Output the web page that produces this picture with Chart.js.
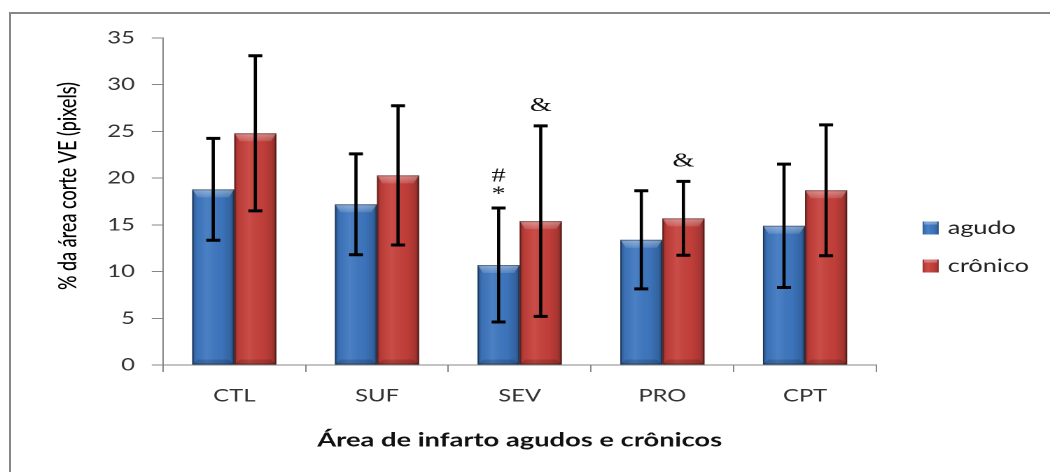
<!DOCTYPE html>
<html>
<head>
<meta charset="utf-8">
<script src="https://cdn.jsdelivr.net/npm/chart.js@4.4.1/dist/chart.umd.min.js"></script>
<style>
  html, body { margin: 0; padding: 0; background: #fff; width: 1050px; height: 472px; overflow: hidden; }
  #frame { position: absolute; left: 9px; top: 12px; width: 1100px; height: 520px; border: 2px solid #878787; }
  /* the drawing is laid out on a 750px wide canvas and widened to 1050px */
  #wrap { position: absolute; left: 0; top: 0; width: 750px; height: 472px; transform: scaleX(1.4); transform-origin: 0 0; }
  canvas { display: block; }
</style>
</head>
<body>
<div id="frame"></div>
<div id="wrap"><canvas id="chart" width="750" height="472"></canvas></div>
<script>
// Infarct area (% of LV section, pixels), mean ± error
const categories = ['CTL', 'SUF', 'SEV', 'PRO', 'CPT'];
const agudo      = [18.8, 17.2, 10.7, 13.4, 14.9];
const agudoErr   = [5.45, 5.4, 6.1, 5.25, 6.6];
const cronico    = [24.8, 20.3, 15.4, 15.7, 18.7];
const cronicoErr = [8.3, 7.45, 10.2, 3.95, 7.0];
// significance marks, listed top to bottom
const agudoMarks   = [[], [], ['#', '*'], [], []];
const cronicoMarks = [[], [], ['&'], ['&'], []];
const yTicks = { min: 0, max: 35, step: 5 };

const FONT = 'Lato';

function shadeGradient(ctx, l, r, a) {
  const g = ctx.createLinearGradient(l, 0, r, 0);
  g.addColorStop(0, 'rgba(0,0,0,' + (0.30 * a) + ')');
  g.addColorStop(0.10, 'rgba(0,0,0,' + (0.06 * a) + ')');
  g.addColorStop(0.35, 'rgba(255,255,255,' + (0.07 * a) + ')');
  g.addColorStop(0.70, 'rgba(0,0,0,0.03)');
  g.addColorStop(0.90, 'rgba(0,0,0,' + (0.16 * a) + ')');
  g.addColorStop(1, 'rgba(0,0,0,' + (0.40 * a) + ')');
  return g;
}

// bevelled, shaded look on top of the flat bars
const gloss = {
  id: 'gloss',
  afterDatasetsDraw(chart) {
    const ctx = chart.ctx;
    chart.data.datasets.forEach((ds, i) => {
      chart.getDatasetMeta(i).data.forEach(bar => {
        const { x, y, base, width } = bar.getProps(['x', 'y', 'base', 'width'], true);
        const l = x - width / 2, r = x + width / 2, h = base - y;
        ctx.save();
        ctx.fillStyle = shadeGradient(ctx, l, r, 1);
        ctx.fillRect(l, y, width, h);
        const bh = Math.min(8, h / 2), bi = 4;
        const tg = ctx.createLinearGradient(0, y, 0, y + bh);
        tg.addColorStop(0, 'rgba(255,255,255,0.40)');
        tg.addColorStop(1, 'rgba(255,255,255,0.12)');
        ctx.beginPath();
        ctx.moveTo(l, y); ctx.lineTo(r, y); ctx.lineTo(r - bi, y + bh); ctx.lineTo(l + bi, y + bh); ctx.closePath();
        ctx.fillStyle = tg;
        ctx.fill();
        ctx.beginPath();
        ctx.moveTo(l, base); ctx.lineTo(r, base); ctx.lineTo(r - bi, base - 5); ctx.lineTo(l + bi, base - 5); ctx.closePath();
        ctx.fillStyle = 'rgba(0,0,0,0.15)';
        ctx.fill();
        ctx.strokeStyle = 'rgba(0,0,0,0.35)';
        ctx.lineWidth = 1;
        ctx.strokeRect(l + 0.5, y + 0.5, width - 1, h - 1);
        ctx.restore();
      });
    });
  }
};

// error bars with caps
const errorBars = {
  id: 'errorBars',
  afterDatasetsDraw(chart) {
    const ctx = chart.ctx, ys = chart.scales.y;
    chart.data.datasets.forEach((ds, i) => {
      chart.getDatasetMeta(i).data.forEach((bar, j) => {
        const v = ds.data[j], e = ds.errors[j];
        const yt = ys.getPixelForValue(v + e), yb = ys.getPixelForValue(v - e);
        ctx.save();
        ctx.strokeStyle = '#000';
        ctx.lineWidth = 2.3;
        ctx.beginPath(); ctx.moveTo(bar.x, yt); ctx.lineTo(bar.x, yb); ctx.stroke();
        ctx.lineWidth = 3;
        ctx.beginPath();
        ctx.moveTo(bar.x - 5, yt); ctx.lineTo(bar.x + 5, yt);
        ctx.moveTo(bar.x - 5, yb); ctx.lineTo(bar.x + 5, yb);
        ctx.stroke();
        ctx.restore();
      });
    });
  }
};

// significance symbols above the error bars
const marks = {
  id: 'marks',
  afterDatasetsDraw(chart) {
    const ctx = chart.ctx, ys = chart.scales.y;
    chart.data.datasets.forEach((ds, i) => {
      chart.getDatasetMeta(i).data.forEach((bar, j) => {
        const list = ds.marks[j];
        if (!list.length) return;
        const yt = ys.getPixelForValue(ds.data[j] + ds.errors[j]);
        ctx.save();
        ctx.font = '20px "Liberation Serif"';
        ctx.fillStyle = '#111';
        ctx.textAlign = 'center';
        ctx.textBaseline = 'middle';
        list.slice().reverse().forEach((m, k) => {
          ctx.fillText(m, bar.x, yt - ds.markGap - k * 18);
        });
        ctx.restore();
      });
    });
  }
};

// legend at the right, and the vertical axis title
const sideText = {
  id: 'sideText',
  afterDraw(chart) {
    const ctx = chart.ctx;
    const rows = [228, 266];
    chart.data.datasets.forEach((ds, i) => {
      const cy = rows[i], l = 659, w = 11.5, h = 13;
      ctx.save();
      ctx.fillStyle = ds.backgroundColor;
      ctx.fillRect(l, cy - h / 2, w, h);
      ctx.fillStyle = shadeGradient(ctx, l, l + w, 1);
      ctx.fillRect(l, cy - h / 2, w, h);
      ctx.fillStyle = 'rgba(255,255,255,0.3)';
      ctx.fillRect(l + 1, cy - h / 2, w - 2, 3);
      ctx.fillStyle = '#222';
      ctx.font = '18px ' + FONT;
      ctx.textAlign = 'left';
      ctx.textBaseline = 'middle';
      ctx.fillText(ds.label, 677, cy);
      ctx.restore();
    });
    ctx.save();
    ctx.translate(48.6, 186);
    ctx.rotate(-Math.PI / 2);
    ctx.fillStyle = '#000';
    ctx.font = '500 18px ' + FONT;
    ctx.textAlign = 'center';
    ctx.textBaseline = 'middle';
    ctx.fillText('% da área corte VE (pixels)', 0, 0);
    ctx.restore();
  }
};

new Chart(document.getElementById('chart'), {
  type: 'bar',
  data: {
    labels: categories,
    datasets: [
      { label: 'agudo', data: agudo, errors: agudoErr, marks: agudoMarks, markGap: 14,
        backgroundColor: '#3E77C0', categoryPercentage: 0.59, barPercentage: 1 },
      { label: 'crônico', data: cronico, errors: cronicoErr, marks: cronicoMarks, markGap: 20,
        backgroundColor: '#C6403B', categoryPercentage: 0.59, barPercentage: 1 }
    ]
  },
  options: {
    responsive: false,
    animation: false,
    devicePixelRatio: 2,
    layout: { padding: { left: 0, right: 124, top: 38, bottom: 0 } },
    plugins: { legend: { display: false }, tooltip: { enabled: false } },
    scales: {
      x: {
        grid: { drawOnChartArea: false, tickLength: 7, color: '#868686', offset: true },
        border: { color: '#868686' },
        ticks: { color: '#333', font: { family: FONT, size: 17 }, padding: 14 },
        title: { display: true, text: 'Área de infarto agudos e crônicos', color: '#111',
                 font: { family: FONT, size: 19.5, weight: 'bold' }, padding: { top: 0, bottom: 20 } },
        afterFit(scale) { scale.height = 107; }
      },
      y: {
        min: yTicks.min, max: yTicks.max,
        ticks: { stepSize: yTicks.step, color: '#333', font: { family: FONT, size: 17 }, padding: 12 },
        grid: { drawOnChartArea: false, tickLength: 8, color: '#868686' },
        border: { color: '#868686' },
        afterFit(scale) { scale.width = 116.4; }
      }
    }
  },
  plugins: [gloss, errorBars, marks, sideText]
});
</script>
</body>
</html>
